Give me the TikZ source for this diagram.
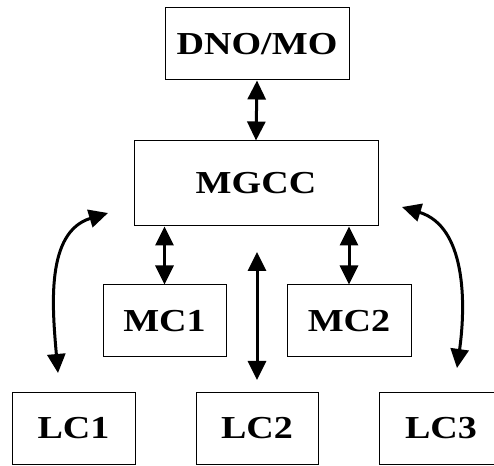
\documentclass[tikz,border=0pt]{standalone}
\usepackage{fontspec}
\usepackage{graphicx}
\setmainfont{Liberation Serif}
\usetikzlibrary{arrows.meta}
\newcommand\wlbl[1]{\scalebox{1.19}[1]{#1}}
\tikzset{
  box/.style={draw=black, line width=1pt, inner sep=0pt, font=\fontsize{32}{34}\selectfont\bfseries},
  tipA/.tip={Triangle[length=19pt 0, width=18pt 0]},
  link/.style={line width=3pt, tipA-tipA},
}
\begin{document}
\begin{tikzpicture}[x=1pt,y=1pt]
\useasboundingbox (0,0) rectangle (494,465);
\node[box, minimum width=184pt, minimum height=72pt] (dno) at (257,421) {\wlbl{DNO/MO}};
\node[box, minimum width=244pt, minimum height=85pt] (mgcc) at (256,281.5) {\wlbl{MGCC}};
\node[box, minimum width=123pt, minimum height=72pt] (mc1) at (164.5,144) {\wlbl{MC1}};
\node[box, minimum width=124pt, minimum height=72pt] (mc2) at (349,144) {\wlbl{MC2}};
\node[box, minimum width=123pt, minimum height=71pt] (lc1) at (73.5,36.5) {\wlbl{LC1}};
\node[box, minimum width=122pt, minimum height=71pt] (lc2) at (257,36.5) {\wlbl{LC2}};
\node[box, minimum width=124pt, minimum height=71pt] (lc3) at (441,36.5) {\wlbl{LC3}};
\coordinate (l1) at (108,252);
\coordinate (l2) at (58,92);
\coordinate (r1) at (402,258);
\coordinate (r2) at (457,97);
\coordinate (c1) at (257,213);
\coordinate (c2) at (257,85);
\draw[link] (dno.south) -- (mgcc.north);
\draw[link] (mc1.north) -- (mc1.north |- mgcc.south);
\draw[link] (mc2.north) -- (mc2.north |- mgcc.south);
\draw[link] (c1) -- (c2);
\draw[link] (l1) to[out=197, in=95, looseness=1.0] (l2);
\draw[link] (r1) to[out=-17, in=82, looseness=1.0] (r2);
\end{tikzpicture}
\end{document}
